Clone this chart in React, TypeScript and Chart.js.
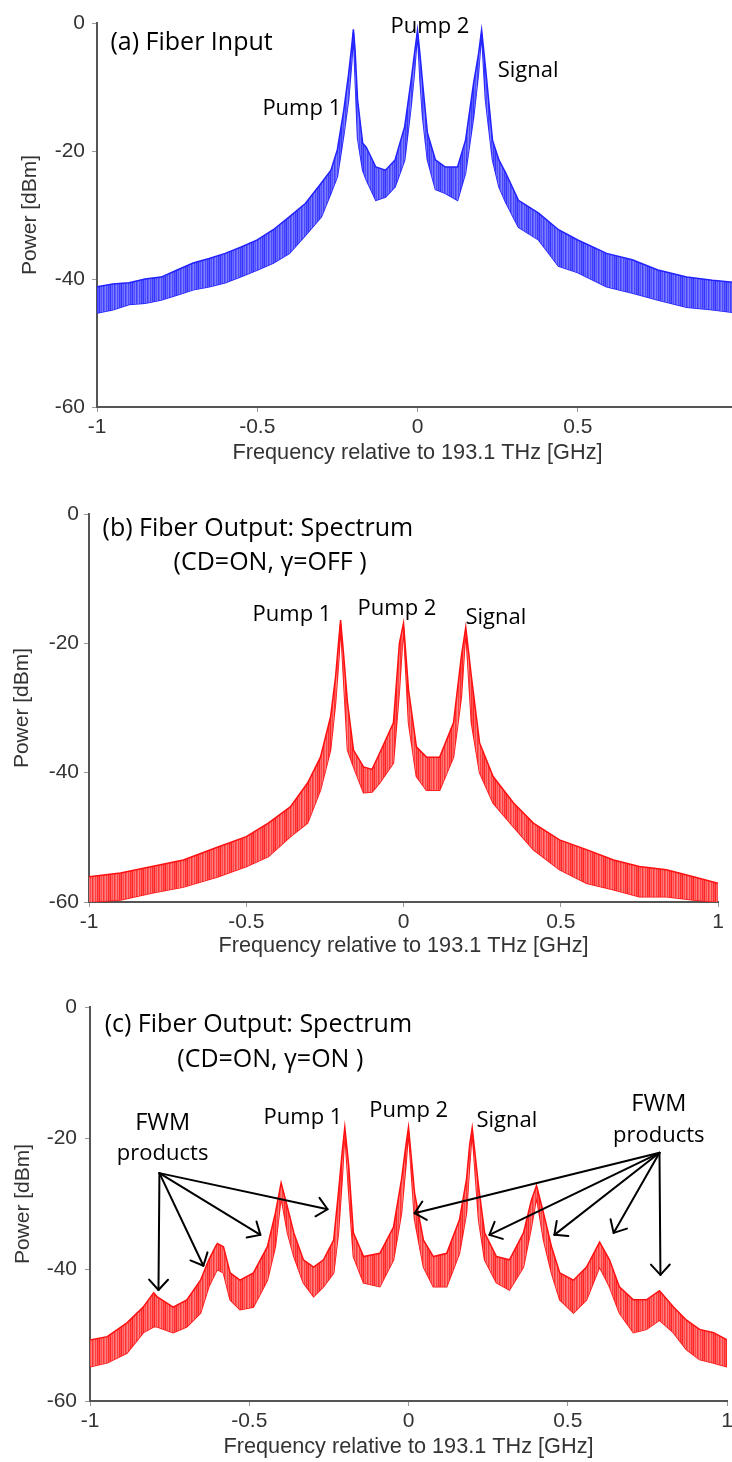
import React, { useEffect, useRef } from 'react';
import { Chart, registerables } from 'chart.js';

Chart.register(...registerables);

// ---------------- Data ----------------
// Frequency relative to 193.1 THz [GHz]; upper / lower envelope of the noisy trace [dBm]

// (a) Fiber Input
const freqA = [-1, -0.95, -0.9, -0.85, -0.8, -0.75, -0.7, -0.65, -0.6, -0.55, -0.5, -0.45, -0.4, -0.35, -0.3, -0.27, -0.25, -0.23, -0.215, -0.205, -0.2, -0.195, -0.187, -0.171, -0.16, -0.13, -0.1, -0.07, -0.04, -0.02, -0.01, 0, 0.008, 0.016, 0.031, 0.056, 0.087, 0.125, 0.15, 0.175, 0.19, 0.2, 0.212, 0.234, 0.254, 0.275, 0.315, 0.378, 0.44, 0.5, 0.59, 0.67, 0.75, 0.84, 0.92, 1];
const upperA = [-41.2, -40.8, -40.6, -40.0, -39.7, -38.6, -37.5, -36.8, -36.0, -35.0, -33.9, -32.3, -30.3, -28.2, -25.0, -23.0, -19.8, -13.6, -8, -3.5, -1, -4, -12, -18.8, -19.4, -22.5, -23, -21.4, -16.2, -9, -5, -1.1, -5, -9.4, -17.2, -21.4, -22.5, -22.5, -18.3, -9.4, -5, -1.1, -6.9, -18.3, -21.4, -23.4, -27.7, -29.7, -32.3, -33.9, -36, -37, -38.6, -39.7, -40.2, -40.6];
const lowerA = [-45.3, -44.8, -44.0, -43.8, -43.3, -42.5, -41.7, -41.2, -40.6, -39.6, -38.6, -37.5, -36.0, -33.2, -30.3, -26.6, -24, -17.5, -12, -6, -1.5, -8, -18, -23, -24.5, -27.7, -27.2, -25.6, -21.4, -13, -8, -1.6, -9, -14.7, -21.4, -26, -26.6, -27.7, -23.4, -14.7, -8, -1.6, -12, -21.4, -25.6, -28, -31.9, -33.9, -38, -39, -41.2, -42.2, -43.3, -44.4, -44.8, -45.3];

// (b) Fiber Output: Spectrum (CD=ON, gamma=OFF)
const freqB = [-1, -0.9, -0.8, -0.7, -0.59, -0.5, -0.43, -0.36, -0.305, -0.264, -0.232, -0.216, -0.205, -0.2, -0.19, -0.178, -0.159, -0.127, -0.1, -0.076, -0.032, -0.013, 0, 0.016, 0.041, 0.073, 0.115, 0.159, 0.184, 0.198, 0.216, 0.242, 0.285, 0.35, 0.413, 0.496, 0.582, 0.668, 0.75, 0.836, 0.922, 1];
const upperB = [-56.1, -55.5, -54.5, -53.5, -51.5, -49.9, -47.8, -45.3, -41.6, -37.6, -31.4, -25.2, -19, -16.4, -22, -29.2, -36.5, -39.1, -39.5, -37, -32.3, -20, -16.9, -27.2, -36, -37.6, -37.6, -32.3, -22, -17.5, -25.2, -35.4, -40.6, -44.7, -47.8, -50.4, -51.9, -53.5, -54.5, -55, -56.1, -57.1];
const lowerB = [-60, -59.7, -58.6, -57.7, -56.1, -54.5, -53, -49.9, -47.8, -42.7, -36.5, -29.2, -22, -17, -26, -36.5, -39.1, -43.1, -43, -41.6, -38.5, -27.2, -17.5, -32.3, -40.6, -42.7, -42.7, -37.6, -28.3, -18, -32.3, -40, -44.7, -48.4, -51.9, -55, -57.1, -58.1, -59.2, -59.2, -59.7, -60];

// (c) Fiber Output: Spectrum (CD=ON, gamma=ON)
const freqC = [-1, -0.946, -0.884, -0.833, -0.8, -0.79, -0.739, -0.696, -0.653, -0.627, -0.606, -0.6, -0.581, -0.56, -0.529, -0.487, -0.443, -0.418, -0.4, -0.38, -0.36, -0.33, -0.298, -0.267, -0.235, -0.22, -0.208, -0.2, -0.188, -0.173, -0.141, -0.09, -0.047, -0.022, -0.008, 0, 0.019, 0.047, 0.078, 0.12, 0.16, 0.182, 0.192, 0.2, 0.22, 0.239, 0.276, 0.317, 0.361, 0.386, 0.402, 0.424, 0.449, 0.475, 0.518, 0.559, 0.6, 0.631, 0.662, 0.706, 0.747, 0.788, 0.832, 0.873, 0.914, 0.958, 1];
const upperC = [-50.7, -50.2, -48.1, -45.7, -43.5, -44.1, -45.7, -44.6, -41.6, -38.5, -36.5, -36, -36.5, -40.5, -41.6, -40.5, -36.5, -31.4, -26.8, -30.5, -34.4, -38.5, -39.6, -38.5, -35.5, -28.3, -22, -18.3, -24, -34.4, -38, -37.5, -33.5, -26.3, -21, -18.3, -28.3, -35.5, -38, -37.5, -32.4, -26.3, -21, -18.4, -27.3, -34.4, -38, -38.5, -34.4, -29.4, -27.2, -31.4, -36.5, -40.5, -41.6, -39.6, -35.8, -38.5, -42.6, -44.6, -44.6, -43.2, -45.7, -47.7, -49.1, -49.6, -50.7];
const lowerC = [-54.8, -54.2, -52.7, -49.6, -48.7, -48.7, -49.6, -48.7, -46.6, -42.6, -40.5, -40, -40.5, -44.6, -46.1, -45.7, -41.6, -36.5, -29, -34.4, -38, -42, -44.1, -42.6, -40.5, -34.4, -26, -19, -28, -38, -42, -42.6, -38.5, -31.4, -24, -19, -32.4, -39.6, -42.6, -42.6, -37.5, -31.4, -24, -19, -32.4, -38.5, -42, -43.1, -39.6, -33.5, -29, -35.5, -40.5, -44.6, -46.6, -44.6, -39.6, -42.6, -46.6, -49.6, -49.1, -47.7, -49.6, -52.2, -53.7, -54.2, -54.8];

// Tick values and labels
const xTickValues = [-1, -0.5, 0, 0.5, 1];
const xTickLabels = ['-1', '-0.5', '0', '0.5', '1'];
const yTickValues = [-60, -40, -20, 0];
const yTickLabels = ['-60', '-40', '-20', '0'];
const xTitle = 'Frequency relative to 193.1 THz [GHz]';
const yTitle = 'Power [dBm]';

// Annotations (positions in data coordinates: frequency, dBm)
type Txt = { text: string; f: number; v: number; size: number; align?: CanvasTextAlign };
type Arrow = { from: [number, number]; to: [number, number] };

const textsA: Txt[] = [
  { text: '(a) Fiber Input', f: -0.958, v: -4.2, size: 25 },
  { text: 'Pump 1', f: -0.484, v: -14.4, size: 22 },
  { text: 'Pump 2', f: -0.084, v: -1.56, size: 22 },
  { text: 'Signal', f: 0.25, v: -8.4, size: 22 },
];
const textsB: Txt[] = [
  { text: '(b) Fiber Output: Spectrum', f: -0.957, v: -3.4, size: 25 },
  { text: '(CD=ON, γ=OFF )', f: -0.731, v: -8.7, size: 25 },
  { text: 'Pump 1', f: -0.48, v: -16.6, size: 22 },
  { text: 'Pump 2', f: -0.146, v: -15.6, size: 22 },
  { text: 'Signal', f: 0.197, v: -17, size: 22 },
];
const textsC: Txt[] = [
  { text: '(c) Fiber Output: Spectrum', f: -0.954, v: -3.76, size: 25 },
  { text: '(CD=ON, γ=ON )', f: -0.726, v: -9.1, size: 25 },
  { text: 'FWM', f: -0.772, v: -18.8, size: 23.5, align: 'center' },
  { text: 'products', f: -0.772, v: -23.3, size: 22, align: 'center' },
  { text: 'Pump 1', f: -0.455, v: -17.8, size: 22 },
  { text: 'Pump 2', f: -0.123, v: -16.8, size: 22 },
  { text: 'Signal', f: 0.2135, v: -18.3, size: 22 },
  { text: 'FWM', f: 0.786, v: -15.8, size: 23.5, align: 'center' },
  { text: 'products', f: 0.786, v: -20.5, size: 22, align: 'center' },
];
const arrowsC: Arrow[] = [
  { from: [-0.782, -25.3], to: [-0.785, -43.1] },
  { from: [-0.782, -25.3], to: [-0.644, -39.4] },
  { from: [-0.782, -25.3], to: [-0.465, -34.7] },
  { from: [-0.782, -25.3], to: [-0.254, -30.8] },
  { from: [0.788, -22.2], to: [0.019, -31.4] },
  { from: [0.788, -22.2], to: [0.254, -34.7] },
  { from: [0.788, -22.2], to: [0.458, -34.7] },
  { from: [0.788, -22.2], to: [0.644, -34.4] },
  { from: [0.788, -22.2], to: [0.791, -40.8] },
];

// ---------------- Rendering ----------------
const ANNOT_FONT = '"Open Sans", "Noto Sans", sans-serif';
const AXIS_FONT = '"Liberation Sans", Arial, sans-serif';

const annotPlugin = {
  id: 'annot',
  afterDatasetsDraw(chart: any, _args: any, opts: any) {
    const { ctx } = chart;
    const xs = chart.scales.x;
    const ys = chart.scales.y;
    ctx.save();
    ctx.fillStyle = '#000';
    ctx.textBaseline = 'alphabetic';
    (opts.texts || []).forEach((t: Txt) => {
      ctx.font = `${t.size}px ${ANNOT_FONT}`;
      ctx.textAlign = t.align || 'left';
      ctx.fillText(t.text, xs.getPixelForValue(t.f), ys.getPixelForValue(t.v));
    });
    ctx.strokeStyle = '#000';
    ctx.lineWidth = 2;
    ctx.lineCap = 'round';
    ctx.lineJoin = 'round';
    (opts.arrows || []).forEach((a: Arrow) => {
      const x0 = xs.getPixelForValue(a.from[0]);
      const y0 = ys.getPixelForValue(a.from[1]);
      const x1 = xs.getPixelForValue(a.to[0]);
      const y1 = ys.getPixelForValue(a.to[1]);
      ctx.beginPath();
      ctx.moveTo(x0, y0);
      ctx.lineTo(x1, y1);
      ctx.stroke();
      const ang = Math.atan2(y1 - y0, x1 - x0);
      const L = 14;
      const H = 0.74;
      ctx.beginPath();
      ctx.moveTo(x1 - L * Math.cos(ang - H), y1 - L * Math.sin(ang - H));
      ctx.lineTo(x1, y1);
      ctx.lineTo(x1 - L * Math.cos(ang + H), y1 - L * Math.sin(ang + H));
      ctx.stroke();
    });
    ctx.restore();
  },
};

// Striped fill imitating the dense vertical noise texture of the measured trace (style only)
function stripePattern(colors: string[]): CanvasPattern | string {
  const c = document.createElement('canvas');
  c.width = colors.length;
  c.height = 4;
  const g = c.getContext('2d');
  if (!g) return colors[0];
  colors.forEach((col, i) => {
    g.fillStyle = col;
    g.fillRect(i, 0, 1, 4);
  });
  const p = g.createPattern(c, 'repeat');
  return p || colors[0];
}

const BLUE_STRIPES = ['#3434ff', '#6a6aff', '#5050ff', '#7c7cff', '#4040ff', '#6060ff', '#8080ff', '#4a4aff', '#7070ff', '#3c3cff', '#5c5cff'];
const RED_STRIPES = ['#ff2424', '#ff6a6a', '#ff4a4a', '#ff7c7c', '#ff3434', '#ff5c5c', '#ff8282', '#ff4040', '#ff7070', '#ff2e2e', '#ff5454'];

type PanelSpec = {
  freq: number[];
  upper: number[];
  lower: number[];
  edge: string;
  stripes: string[];
  texts: Txt[];
  arrows: Arrow[];
  top: number;
  width: number;
  height: number;
  padTop: number;
  padRight: number;
  axisX: number;
  yTickPad: number;
  yTitlePad: number;
  xTitlePad: number;
};

const panels: PanelSpec[] = [
  { freq: freqA, upper: upperA, lower: lowerA, edge: '#2222ff', stripes: BLUE_STRIPES, texts: textsA, arrows: [],
    top: 0, width: 760, height: 470, padTop: 23, padRight: 22, axisX: 97, yTickPad: 7, yTitlePad: 18, xTitlePad: 3.5 },
  { freq: freqB, upper: upperB, lower: lowerB, edge: '#ff1010', stripes: RED_STRIPES, texts: textsB, arrows: [],
    top: 490, width: 732, height: 475, padTop: 24, padRight: 14, axisX: 89, yTickPad: 5, yTitlePad: 10, xTitlePad: 5.5 },
  { freq: freqC, upper: upperC, lower: lowerC, edge: '#ff1010', stripes: RED_STRIPES, texts: textsC, arrows: arrowsC,
    top: 980, width: 745, height: 484, padTop: 27, padRight: 18, axisX: 90, yTickPad: 8, yTitlePad: 10.5, xTitlePad: 3.5 },
];

function makeConfig(p: PanelSpec): any {
  const up = p.freq.map((f, i) => ({ x: f, y: p.upper[i] }));
  const lo = p.freq.map((f, i) => ({ x: f, y: p.lower[i] }));
  const tickFont = { family: AXIS_FONT, size: 21 };
  const titleFont = { family: AXIS_FONT, size: 21.7 };
  const fill = stripePattern(p.stripes);
  return {
    type: 'line',
    data: {
      datasets: [
        { data: up, borderColor: p.edge, borderWidth: 1.5, backgroundColor: fill, fill: '+1', pointRadius: 0, tension: 0 },
        { data: lo, borderColor: p.edge, borderWidth: 1.5, backgroundColor: fill, fill: false, pointRadius: 0, tension: 0 },
      ],
    },
    options: {
      responsive: false,
      animation: false,
      devicePixelRatio: 1,
      events: [],
      layout: { padding: { top: p.padTop, right: p.padRight, left: 0, bottom: 0 } },
      plugins: {
        legend: { display: false },
        tooltip: { enabled: false },
        annot: { texts: p.texts, arrows: p.arrows },
      },
      scales: {
        x: {
          type: 'linear',
          min: -1,
          max: 1,
          afterBuildTicks: (s: any) => { s.ticks = xTickValues.map((v) => ({ value: v })); },
          afterFit: (s: any) => { s.height = 63; },
          grid: { drawOnChartArea: false, drawTicks: true, tickLength: 5, color: '#9a9a9a' },
          border: { display: true, color: '#555', width: 2 },
          ticks: {
            font: tickFont, color: '#333', padding: 3, maxRotation: 0, autoSkip: false,
            callback: (_v: any, i: number) => xTickLabels[i],
          },
          title: { display: true, text: xTitle, font: titleFont, color: '#333', padding: { top: 0, bottom: p.xTitlePad } },
        },
        y: {
          type: 'linear',
          min: -60,
          max: 0,
          afterBuildTicks: (s: any) => { s.ticks = yTickValues.map((v) => ({ value: v })); },
          afterFit: (s: any) => { s.width = p.axisX; },
          grid: { drawOnChartArea: false, drawTicks: true, tickLength: 5, color: '#9a9a9a' },
          border: { display: true, color: '#555', width: 2 },
          ticks: {
            font: tickFont, color: '#333', padding: p.yTickPad,
            callback: (_v: any, i: number) => yTickLabels[i],
          },
          title: { display: true, text: yTitle, font: tickFont, color: '#333', padding: { top: p.yTitlePad, bottom: 0 } },
        },
      },
    },
    plugins: [annotPlugin],
  };
}

function Panel({ spec }: { spec: PanelSpec }) {
  const ref = useRef<HTMLCanvasElement | null>(null);
  useEffect(() => {
    if (!ref.current) return;
    const chart = new Chart(ref.current, makeConfig(spec));
    return () => chart.destroy();
  }, [spec]);
  return (
    <canvas
      ref={ref}
      width={spec.width}
      height={spec.height}
      style={{ position: 'absolute', left: 0, top: spec.top, width: spec.width, height: spec.height, display: 'block' }}
    />
  );
}

export default function App() {
  return (
    <div style={{ position: 'absolute', left: 0, top: 0, width: 732, height: 1462, overflow: 'hidden', background: '#fff' }}>
      {panels.map((p, i) => (
        <Panel key={i} spec={p} />
      ))}
    </div>
  );
}
